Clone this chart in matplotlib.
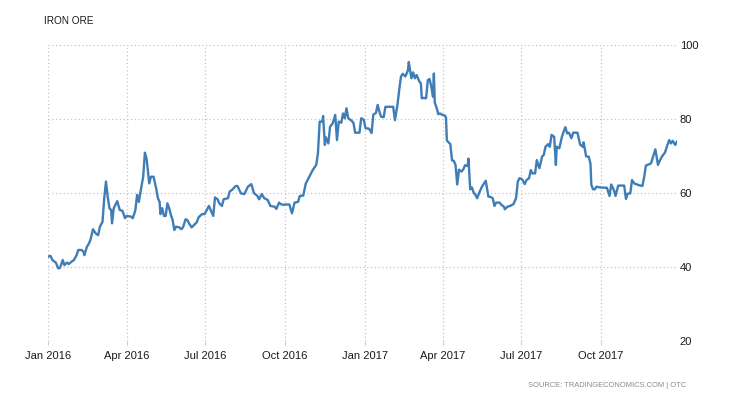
import matplotlib
matplotlib.use("Agg")
import matplotlib.pyplot as plt
import pandas as pd

# Days since 2016-01-01 and iron ore price (USD/T)
days = [0, 3, 5, 9, 12, 14, 17, 19, 22, 24, 27, 30, 33, 35, 39, 41, 42, 45, 47, 49,
        52, 55, 58, 60, 63, 65, 67, 69, 71, 73, 74, 76, 80, 83, 86, 89, 91, 96, 98, 101,
        103, 105, 107, 110, 112, 114, 117, 119, 122, 125, 127, 129, 130, 132, 134, 136, 138, 140, 142, 144,
        146, 148, 152, 154, 156, 159, 161, 163, 166, 169, 172, 174, 178, 181, 184, 186, 188, 191, 193, 196,
        198, 201, 203, 208, 210, 213, 217, 219, 223, 227, 231, 235, 238, 242, 244, 247, 250, 254, 257, 262,
        264, 267, 269, 272, 275, 279, 282, 285, 289, 291, 295, 298, 302, 306, 310, 312, 314, 317, 318, 320,
        321, 324, 326, 329, 332, 334, 336, 339, 341, 343, 345, 347, 350, 353, 355, 360, 362, 365, 367, 371,
        374, 376, 379, 381, 383, 385, 388, 390, 399, 401, 404, 406, 408, 410, 413, 416, 417, 420, 422, 424,
        426, 429, 431, 432, 434, 437, 439, 441, 443, 445, 446, 447, 450, 451, 453, 456, 459, 460, 461, 465,
        467, 469, 471, 473, 475, 478, 480, 482, 485, 486, 488, 490, 492, 494, 496, 499, 502, 504, 506, 509,
        511, 514, 516, 518, 522, 524, 527, 528, 531, 534, 538, 541, 543, 545, 548, 551, 553, 556, 558, 560,
        563, 565, 566, 568, 571, 573, 575, 578, 580, 582, 585, 587, 588, 591, 594, 596, 598, 600, 602, 605,
        607, 612, 615, 618, 619, 622, 625, 627, 628, 630, 632, 634, 638, 646, 649, 651, 654, 656, 659, 666,
        668, 670, 673, 675, 678, 680, 683, 687, 689, 691, 694, 697, 699, 702, 705, 707, 710, 713, 716, 718,
        720, 722, 725, 727]
prices = [42.8, 43.0, 41.9, 41.2, 39.6, 39.8, 41.9, 40.5, 41.2, 40.8, 41.4, 41.9, 43.2, 44.6, 44.6, 44.1, 43.2, 45.5, 46.2, 47.3,
          50.2, 49.1, 48.6, 50.9, 52.2, 58.6, 63.1, 59.0, 55.9, 55.4, 51.8, 55.9, 57.8, 55.4, 55.2, 53.2, 53.8, 53.6, 53.2, 55.4,
          59.5, 57.6, 60.4, 64.4, 70.9, 69.2, 62.6, 64.4, 64.4, 61.3, 58.6, 57.6, 54.3, 55.9, 53.8, 53.8, 57.2, 55.9, 54.1, 52.7,
          50.0, 50.9, 50.7, 50.2, 50.7, 52.9, 52.7, 51.8, 50.7, 51.4, 52.1, 53.4, 54.3, 54.3, 55.6, 56.5, 55.4, 53.8, 58.8, 58.3,
          57.2, 56.5, 58.3, 58.6, 60.4, 60.9, 61.9, 61.9, 59.9, 59.7, 61.7, 62.4, 60.0, 59.2, 58.3, 59.7, 58.6, 58.1, 56.5, 56.3,
          55.7, 57.4, 57.0, 56.8, 56.9, 56.9, 54.5, 57.4, 57.6, 59.2, 59.3, 62.6, 64.4, 66.2, 67.6, 70.7, 79.3, 79.3, 80.8, 73.0,
          75.1, 73.4, 77.9, 78.8, 81.1, 74.3, 79.3, 79.0, 81.5, 80.2, 82.9, 80.2, 79.7, 79.0, 76.3, 76.3, 80.2, 79.8, 77.5, 77.4,
          76.2, 81.2, 81.6, 83.8, 82.0, 80.6, 80.5, 83.3, 83.3, 79.7, 84.0, 88.0, 91.5, 92.2, 91.5, 93.1, 95.4, 91.0, 92.6, 91.0,
          91.9, 90.2, 89.6, 85.6, 85.7, 85.6, 90.5, 90.8, 88.8, 86.0, 92.3, 84.5, 82.4, 81.3, 81.5, 81.1, 80.9, 80.3, 74.2, 73.2,
          68.8, 68.7, 67.6, 62.3, 66.3, 65.8, 66.4, 67.5, 67.3, 69.3, 61.0, 61.5, 60.1, 59.5, 58.6, 60.4, 61.9, 62.6, 63.3, 59.0,
          59.0, 58.6, 56.5, 57.4, 57.4, 56.8, 56.3, 55.6, 56.3, 56.5, 57.0, 58.6, 63.1, 64.0, 63.7, 62.4, 63.5, 64.0, 66.2, 65.3,
          65.3, 68.9, 68.0, 66.7, 69.8, 70.3, 72.5, 73.2, 72.5, 75.7, 75.2, 67.6, 72.5, 72.1, 75.2, 76.6, 77.8, 76.1, 76.3, 74.8,
          76.3, 76.3, 73.1, 72.5, 73.7, 69.9, 69.8, 67.9, 62.2, 61.0, 61.0, 61.7, 61.5, 61.4, 59.2, 62.3, 60.8, 59.2, 62.0, 62.0,
          58.4, 59.8, 59.9, 63.5, 62.5, 62.4, 62.1, 61.9, 64.2, 67.4, 67.7, 68.0, 69.6, 71.8, 67.6, 68.7, 70.0, 70.9, 73.0, 74.3,
          73.4, 74.1, 73.0, 73.9]

tick_dates = ["2016-01-01", "2016-04-01", "2016-07-01", "2016-10-01",
              "2017-01-01", "2017-04-01", "2017-07-01", "2017-10-01"]
tick_labels = ["Jan 2016", "Apr 2016", "Jul 2016", "Oct 2016",
               "Jan 2017", "Apr 2017", "Jul 2017", "Oct 2017"]
y_ticks = [20, 40, 60, 80, 100]

title = "IRON ORE"
source = "SOURCE: TRADINGECONOMICS.COM | OTC"

start = pd.Timestamp("2016-01-01")
dates = start + pd.to_timedelta(days, unit="D")

plt.rcParams["font.family"] = ["Liberation Sans", "DejaVu Sans"]

fig = plt.figure(figsize=(7.3, 4.0), dpi=100)
ax = fig.add_axes([48 / 730, 59 / 400, 629 / 730, 296 / 400])

ax.plot(dates, prices, color="#3f7db6", lw=1.7, solid_joinstyle="round")

ax.set_ylim(20, 100)
ax.set_xlim(dates[0], dates[-1])
ax.set_yticks(y_ticks)
ax.set_xticks(pd.to_datetime(tick_dates))
ax.set_xticklabels(tick_labels)

ax.yaxis.tick_right()
ax.tick_params(axis="y", length=0, pad=2, labelsize=8, labelcolor="#1a1a1a")
ax.tick_params(axis="x", length=3, color="#cccccc", pad=4, labelsize=8, labelcolor="#1a1a1a")

ax.grid(True, linestyle=(0, (1, 2)), color="#c4c4c4", lw=0.9)
ax.set_axisbelow(True)
for s in ax.spines.values():
    s.set_visible(False)

fig.text(44 / 730, 1 - 24 / 400, title, fontsize=7.2, color="#1a1a1a",
         va="baseline", ha="left")
fig.text(686 / 730, 1 - 387 / 400, source, fontsize=5.4, color="#8a8a8a",
         va="baseline", ha="right")

fig.savefig("out.png", dpi=100)
